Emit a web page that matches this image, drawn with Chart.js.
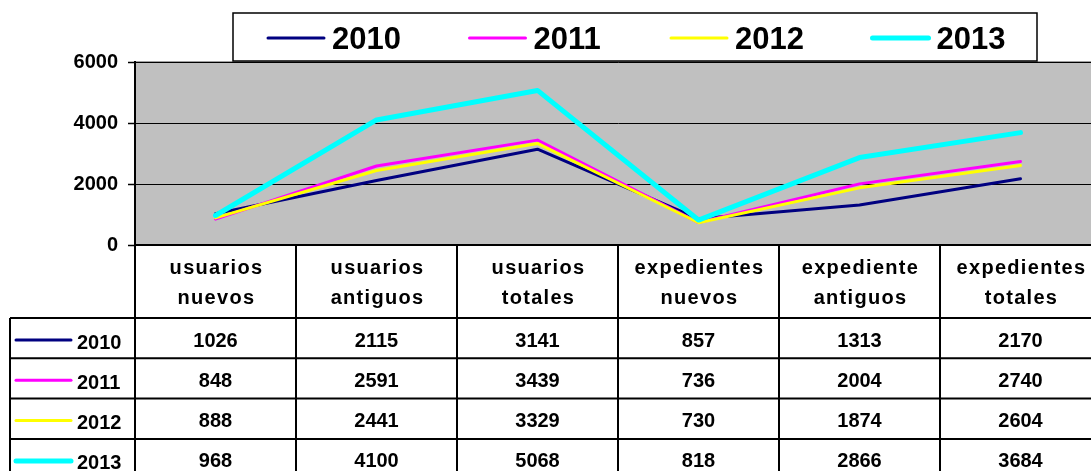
<!DOCTYPE html>
<html>
<head>
<meta charset="utf-8">
<script src="https://cdn.jsdelivr.net/npm/chart.js@4/dist/chart.umd.min.js"></script>
<style>
    html, body { margin: 0; padding: 0; background: #fff; overflow: hidden; }
    #chart { display: block; }
</style>
</head>
<body>
<canvas id="chart" width="1101" height="471"></canvas>
<script>
// --- data ---
const CATEGORIES = [
    ['usuarios', 'nuevos'],
    ['usuarios', 'antiguos'],
    ['usuarios', 'totales'],
    ['expedientes', 'nuevos'],
    ['expediente', 'antiguos'],
    ['expedientes', 'totales'],
];
const YEARS = ['2010', '2011', '2012', '2013'];
const VALUES_2010 = [1026, 2115, 3141, 857, 1313, 2170];
const VALUES_2011 = [848, 2591, 3439, 736, 2004, 2740];
const VALUES_2012 = [888, 2441, 3329, 730, 1874, 2604];
const VALUES_2013 = [968, 4100, 5068, 818, 2866, 3684];
const SERIES = [VALUES_2010, VALUES_2011, VALUES_2012, VALUES_2013];
const Y_TICKS = [0, 2000, 4000, 6000];

// --- styles ---
const FONT = '"Liberation Sans", Arial, sans-serif';
const SERIES_COLORS = ['#000080', '#ff00ff', '#ffff00', '#00ffff'];
const SERIES_WIDTHS = [3, 3, 3, 5];
const PLOT_BG = '#c0c0c0';

const LEGEND_BOX = { left: 233, top: 13, right: 1037, bottom: 61 };
const TABLE = { legendLeft: 10, headerBottom: 318, rowHeight: 40.3, line: 2 };

Chart.defaults.font.family = FONT;

const plotBackground = {
    id: 'plotBackground',
    beforeDraw(chart) {
        const { ctx, chartArea: a } = chart;
        ctx.save();
        ctx.fillStyle = PLOT_BG;
        ctx.fillRect(a.left, a.top, a.right - a.left, a.bottom - a.top);
        ctx.strokeStyle = '#808080';
        ctx.lineWidth = 1.5;
        ctx.beginPath();
        ctx.moveTo(a.left, a.top);
        ctx.lineTo(a.right, a.top);
        ctx.stroke();
        ctx.restore();
    },
};

// legend with a frame, above the plot
const framedLegend = {
    id: 'framedLegend',
    afterDraw(chart) {
        const { ctx } = chart;
        const b = LEGEND_BOX;
        ctx.save();
        ctx.fillStyle = '#fff';
        ctx.fillRect(b.left, b.top, b.right - b.left, b.bottom - b.top);
        ctx.strokeStyle = '#000';
        ctx.lineWidth = 1.5;
        ctx.strokeRect(b.left, b.top, b.right - b.left, b.bottom - b.top);

        const cy = (b.top + b.bottom) / 2;
        ctx.font = `bold 31px ${FONT}`;
        ctx.textBaseline = 'alphabetic';
        ctx.textAlign = 'left';
        chart.data.datasets.forEach((ds, i) => {
            const x0 = 268 + i * 201.5;
            ctx.strokeStyle = ds.borderColor;
            ctx.lineWidth = ds.borderWidth;
            ctx.lineCap = 'round';
            ctx.beginPath();
            ctx.moveTo(x0, cy + 1);
            ctx.lineTo(x0 + 56, cy + 1);
            ctx.stroke();
            ctx.fillStyle = '#000';
            ctx.fillText(ds.label, x0 + 64, cy + 12);
        });
        ctx.restore();
    },
};

// data table under the plot, columns follow the x scale
const dataTable = {
    id: 'dataTable',
    afterDraw(chart) {
        const { ctx, scales: { x } } = chart;
        const n = chart.data.labels.length;
        const colW = (x.right - x.left) / n;
        const top = chart.chartArea.bottom;
        const rowsBottom = TABLE.headerBottom + YEARS.length * TABLE.rowHeight;

        ctx.save();
        ctx.strokeStyle = '#000';
        ctx.lineWidth = TABLE.line;
        ctx.beginPath();
        // header top / axis line
        ctx.moveTo(x.left, top);
        ctx.lineTo(x.right, top);
        // row lines
        for (let r = 0; r <= YEARS.length; r++) {
            const y = TABLE.headerBottom + r * TABLE.rowHeight;
            ctx.moveTo(TABLE.legendLeft, y);
            ctx.lineTo(x.right, y);
        }
        // column lines
        for (let c = 0; c <= n; c++) {
            const xx = x.left + c * colW;
            ctx.moveTo(xx, top);
            ctx.lineTo(xx, rowsBottom);
        }
        ctx.moveTo(TABLE.legendLeft, TABLE.headerBottom);
        ctx.lineTo(TABLE.legendLeft, rowsBottom);
        ctx.stroke();

        // header labels
        ctx.fillStyle = '#000';
        ctx.textAlign = 'center';
        ctx.textBaseline = 'alphabetic';
        ctx.font = `bold 20px ${FONT}`;
        ctx.letterSpacing = '1.3px';
        chart.data.labels.forEach((lines, i) => {
            const cx = x.getPixelForValue(i) + 1;
            lines.forEach((t, k) => ctx.fillText(t, cx, top + 29 + k * 29.5));
        });
        ctx.letterSpacing = '0px';

        // rows
        chart.data.datasets.forEach((ds, r) => {
            const rowTop = TABLE.headerBottom + r * TABLE.rowHeight;
            ctx.strokeStyle = ds.borderColor;
            ctx.lineWidth = ds.borderWidth;
            ctx.lineCap = 'round';
            ctx.beginPath();
            ctx.moveTo(16, rowTop + 22);
            ctx.lineTo(71, rowTop + 22);
            ctx.stroke();
            ctx.fillStyle = '#000';
            ctx.textAlign = 'left';
            ctx.fillText(ds.label, 77, rowTop + 30.5);
            ctx.textAlign = 'center';
            ds.data.forEach((v, i) => {
                ctx.fillText(String(v), x.getPixelForValue(i), rowTop + 28.5);
            });
        });
        ctx.restore();
    },
};

function init() {
    const canvas = document.getElementById('chart');

    new Chart(canvas.getContext('2d'), {
        type: 'line',
        data: {
            labels: CATEGORIES,
            datasets: YEARS.map((year, i) => ({
                label:          year,
                data:           SERIES[i],
                borderColor:    SERIES_COLORS[i],
                backgroundColor: SERIES_COLORS[i],
                borderWidth:    SERIES_WIDTHS[i],
                borderCapStyle: 'round',
                borderJoinStyle: 'round',
                pointRadius:    0,
                tension:        0,
                order:          YEARS.length - i,
            })),
        },
        options: {
            responsive: false,
            animation: false,
            events: [],
            layout: { padding: { top: 62, bottom: 226, left: 0, right: 0 } },
            scales: {
                x: { type: 'category', offset: true, display: false },
                y: {
                    min: 0,
                    max: 6000,
                    afterBuildTicks: scale => { scale.ticks = Y_TICKS.map(value => ({ value })); },
                    afterFit: scale => { scale.width = 135; },
                    grid: { color: '#000', lineWidth: 1, tickLength: 7, tickColor: '#000', tickWidth: 1.5 },
                    border: { display: true, color: '#000', width: 2 },
                    ticks: {
                        padding: 10,
                        color: '#000',
                        font: { size: 20, weight: 'bold' },
                        callback: value => String(value),
                    },
                },
            },
            plugins: { legend: { display: false }, tooltip: { enabled: false } },
        },
        plugins: [plotBackground, dataTable, framedLegend],
    });
}

document.addEventListener('DOMContentLoaded', init);
</script>
</body>
</html>
